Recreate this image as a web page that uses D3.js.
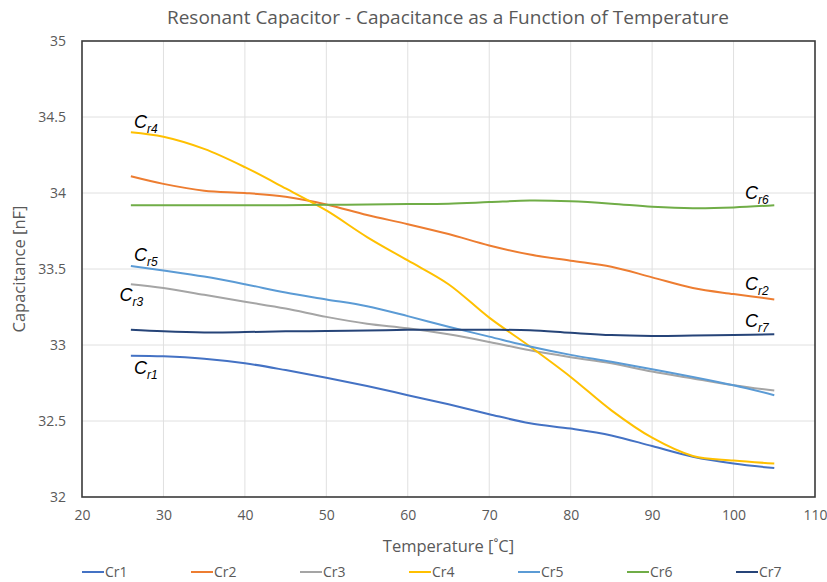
<!DOCTYPE html>
<html><head><meta charset="utf-8">
<script src="https://cdn.jsdelivr.net/npm/d3@7"></script>
<style>body{margin:0;background:#fff;}</style>
</head><body>
<script>
const temps = [26,30,35,40,45,50,55,60,65,70,75,80,85,90,95,100,105];
const cr1 = [32.93,32.926,32.91,32.88,32.835,32.785,32.73,32.67,32.61,32.545,32.485,32.45,32.405,32.335,32.265,32.22,32.19];
const cr2 = [34.11,34.06,34.015,34.0,33.975,33.925,33.855,33.795,33.73,33.655,33.595,33.555,33.515,33.445,33.375,33.335,33.30];
const cr3 = [33.40,33.375,33.33,33.285,33.24,33.185,33.14,33.11,33.07,33.02,32.965,32.92,32.88,32.825,32.78,32.735,32.70];
const cr4 = [34.40,34.37,34.29,34.17,34.03,33.885,33.71,33.556,33.40,33.18,32.99,32.79,32.57,32.39,32.27,32.24,32.22];
const cr5 = [33.52,33.49,33.45,33.40,33.345,33.30,33.255,33.19,33.12,33.055,32.99,32.935,32.89,32.84,32.79,32.735,32.67];
const cr6 = [33.92,33.92,33.92,33.92,33.92,33.922,33.925,33.927,33.93,33.94,33.95,33.945,33.93,33.91,33.90,33.905,33.92];
const cr7 = [33.10,33.09,33.083,33.085,33.09,33.092,33.095,33.10,33.10,33.10,33.097,33.08,33.065,33.06,33.062,33.065,33.07];
const seriesNames = ["Cr1","Cr2","Cr3","Cr4","Cr5","Cr6","Cr7"];
const seriesValues = [cr1,cr2,cr3,cr4,cr5,cr6,cr7];
const colors = ["#4472C4","#ED7D31","#A5A5A5","#FFC000","#5B9BD5","#70AD47","#264478"];
const xTicks = [20,30,40,50,60,70,80,90,100,110];
const yTicks = [32,32.5,33,33.5,34,34.5,35];
// annotation labels: [subscript, temp, value]
const labels = [["r4",26.4,34.43],["r5",26.4,33.55],["r3",24.6,33.29],["r1",26.4,32.81],["r6",101.4,33.96],["r2",101.4,33.36],["r7",101.4,33.12]];

const W=827,H=582;
const m={left:82,top:41,right:12,bottom:85};
const svg=d3.select("body").append("svg").attr("width",W).attr("height",H);
const x=d3.scaleLinear().domain([20,110]).range([m.left,W-m.right]);
const y=d3.scaleLinear().domain([32,35]).range([H-m.bottom,m.top]);
const font="'Open Sans', sans-serif";
const gray="#595959";

// gridlines
svg.append("g").selectAll("line.v").data(xTicks.slice(1,-1)).join("line")
  .attr("x1",d=>x(d)).attr("x2",d=>x(d)).attr("y1",y(32)).attr("y2",y(35))
  .attr("stroke","#e0e0e0").attr("stroke-width",1);
svg.append("g").selectAll("line.h").data(yTicks.slice(1,-1)).join("line")
  .attr("x1",x(20)).attr("x2",x(110)).attr("y1",d=>y(d)).attr("y2",d=>y(d))
  .attr("stroke","#e0e0e0").attr("stroke-width",1);

// axes (labels only)
const xa=svg.append("g").attr("transform",`translate(0,${y(32)})`)
  .call(d3.axisBottom(x).tickValues(xTicks).tickSize(0).tickPadding(13));
const ya=svg.append("g").attr("transform",`translate(${x(20)},0)`)
  .call(d3.axisLeft(y).tickValues(yTicks).tickSize(0).tickPadding(16).tickFormat(d3.format("")));
[xa,ya].forEach(a=>{a.select(".domain").remove();
  a.selectAll("text").attr("font-family",font).attr("font-size",14).attr("fill",gray);});

// frame
svg.append("rect").attr("x",x(20)).attr("y",y(35)).attr("width",x(110)-x(20)).attr("height",y(32)-y(35))
  .attr("fill","none").attr("stroke","#3a3a3a").attr("stroke-width",1.6);

// lines
const line=d3.line().x((d,i)=>x(temps[i])).y(d=>y(d)).curve(d3.curveCatmullRom.alpha(0.5));
svg.append("g").selectAll("path").data(seriesValues).join("path")
  .attr("d",d=>line(d)).attr("fill","none").attr("stroke",(d,i)=>colors[i]).attr("stroke-width",2);

// annotations
const lab=svg.append("g").selectAll("text").data(labels).join("text")
  .attr("x",d=>x(d[1])).attr("y",d=>y(d[2]))
  .attr("font-family","'Liberation Sans', Arial, sans-serif").attr("font-style","italic")
  .attr("font-size",18).attr("fill","#000");
lab.append("tspan").text("C");
lab.append("tspan").attr("dy",5).attr("font-size",12).text(d=>d[0]);

// title
svg.append("text").attr("x",448).attr("y",24).attr("text-anchor","middle")
  .attr("font-family",font).attr("font-size",19).attr("fill",gray)
  .text("Resonant Capacitor - Capacitance as a Function of Temperature");
// axis titles
svg.append("text").attr("x",(x(20)+x(110))/2).attr("y",552).attr("text-anchor","middle")
  .attr("font-family",font).attr("font-size",16.5).attr("fill",gray).text("Temperature [˚C]");
svg.append("text").attr("transform",`translate(25,${(y(32)+y(35))/2}) rotate(-90)`).attr("text-anchor","middle")
  .attr("font-family",font).attr("font-size",16.5).attr("fill",gray).text("Capacitance [nF]");

// legend
const lg=svg.append("g").selectAll("g").data(seriesNames).join("g")
  .attr("transform",(d,i)=>`translate(${82+i*109},572)`);
lg.append("line").attr("x1",0).attr("x2",22).attr("y1",0).attr("y2",0)
  .attr("stroke",(d,i)=>colors[i]).attr("stroke-width",2);
lg.append("text").attr("x",23).attr("y",5).attr("font-family",font).attr("font-size",14)
  .attr("fill",gray).text(d=>d);
</script>
</body></html>
